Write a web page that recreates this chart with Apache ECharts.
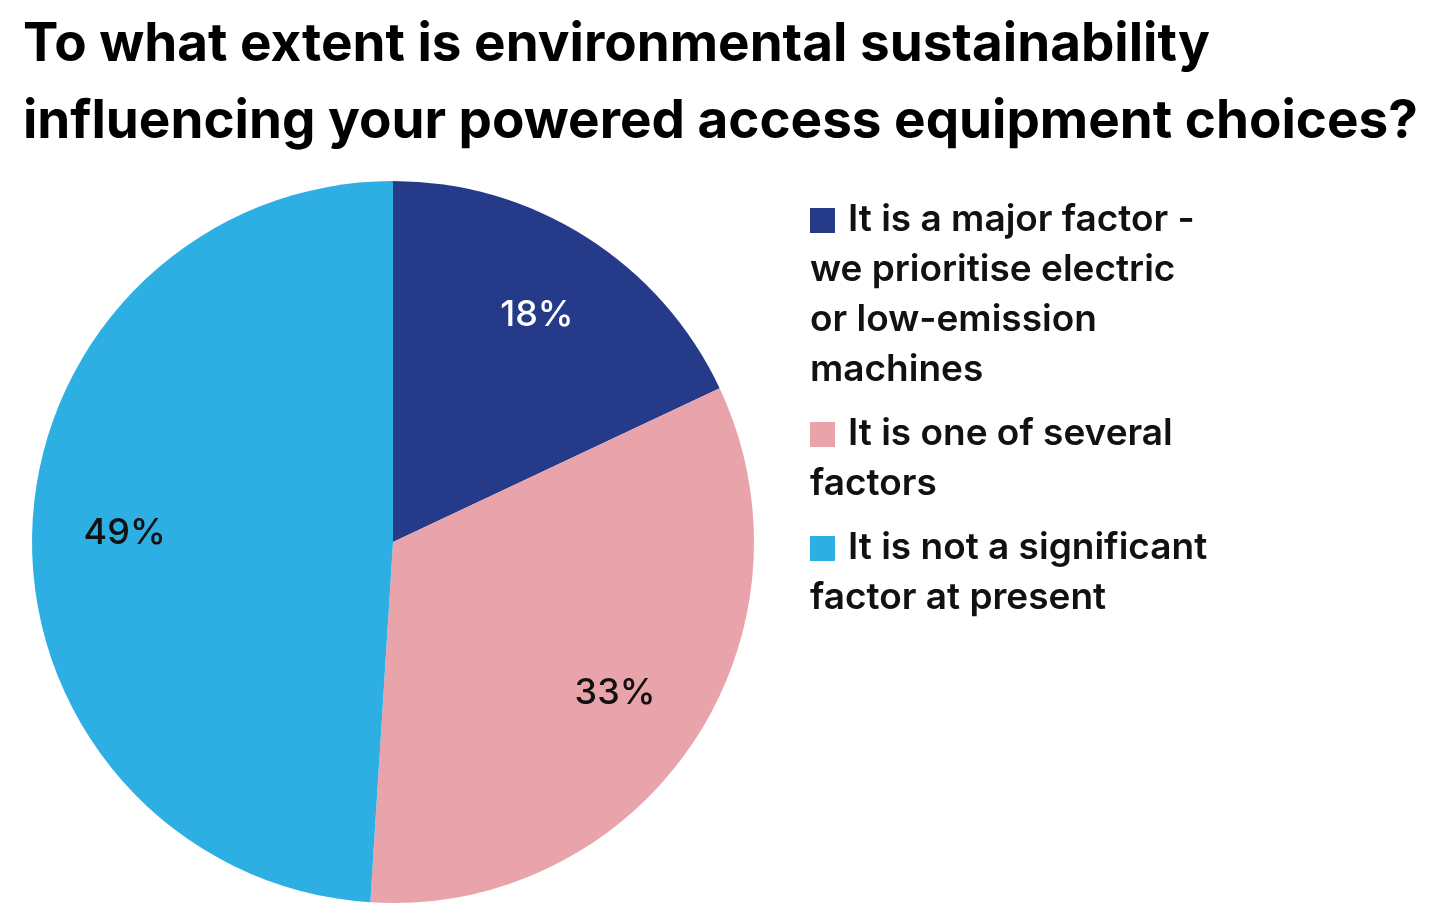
<!DOCTYPE html>
<html>
<head>
<meta charset="utf-8">
<script src="https://cdn.jsdelivr.net/npm/echarts@6/dist/echarts.min.js"></script>
<style>html,body{margin:0;background:#fff;}#chart{width:1456px;height:924px;}</style>
</head>
<body>
<div id="chart"></div>
<script>
var categories = ['It is a major factor - we prioritise electric or low-emission machines', 'It is one of several factors', 'It is not a significant factor at present'];
var values = [18, 33, 49];
var colors = ['#253a89', '#e8a3ab', '#2eafe4'];
var labelColors = ['#ffffff', '#111111', '#111111'];
var legendLines = [
	['It is a major factor -', 'we prioritise electric', 'or low-emission', 'machines'],
	['It is one of several', 'factors'],
	['It is not a significant', 'factor at present']
];
var titleText = 'To what extent is environmental sustainability\ninfluencing your powered access equipment choices?';

var font = 'Inter, "Noto Sans", sans-serif';
var chart = echarts.init(document.getElementById('chart'));

// legend drawn by hand: wrapped lines go back under the icon
var graphics = [];
var y = 220, lineH = 50;
for (var i = 0; i < legendLines.length; i++) {
	graphics.push({type: 'rect', left: 810, top: y - 12, shape: {width: 25, height: 25}, style: {fill: colors[i]}});
	for (var j = 0; j < legendLines[i].length; j++) {
		graphics.push({
			type: 'text', left: j == 0 ? 848 : 810, top: y + j * lineH - 19,
			style: {text: legendLines[i][j], font: '600 37px ' + font, fill: '#111'}
		});
	}
	y += legendLines[i].length * lineH + 14;
}

var pieData = [], labelData = [];
for (var k = 0; k < values.length; k++) {
	pieData.push({name: categories[k], value: values[k], itemStyle: {color: colors[k]}});
	labelData.push({name: categories[k], value: values[k], label: {color: labelColors[k]}});
}

chart.setOption({
	animation: false,
	title: {
		text: titleText, left: 18, top: 2,
		textStyle: {fontFamily: font, fontSize: 53, fontWeight: 700, color: '#000', lineHeight: 77}
	},
	graphic: graphics,
	series: [
		{
			type: 'pie', center: [393, 542], radius: [0, 361], startAngle: 90,
			clockwise: true, label: {show: false}, labelLine: {show: false},
			data: pieData
		},
		{
			// transparent ring only used to place labels further out
			type: 'pie', center: [393, 542], radius: [170, 361], startAngle: 90,
			clockwise: true, silent: true,
			itemStyle: {color: 'rgba(0,0,0,0)'},
			label: {show: true, position: 'inside', formatter: '{c}%', fontFamily: font, fontSize: 36, fontWeight: 500},
			labelLine: {show: false},
			data: labelData
		}
	]
});
</script>
</body>
</html>
